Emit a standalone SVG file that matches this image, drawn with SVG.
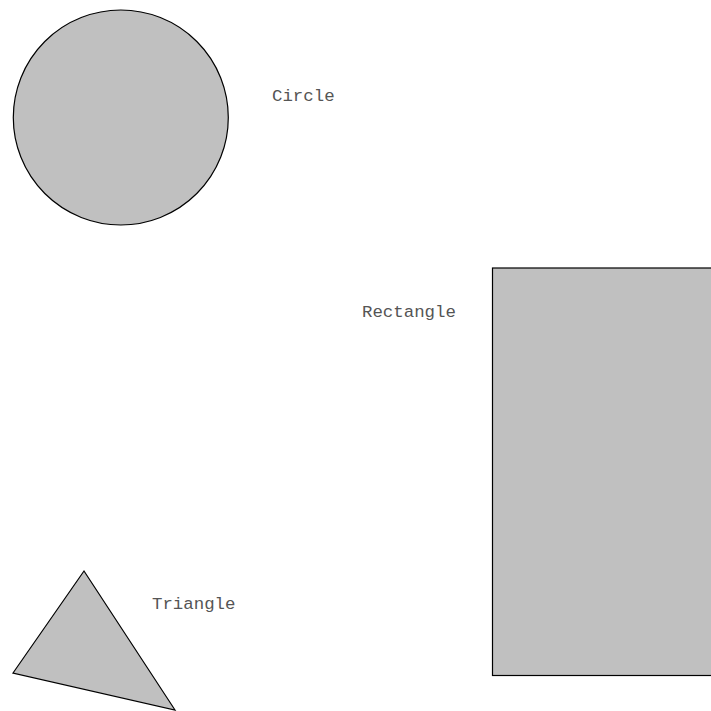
<svg xmlns="http://www.w3.org/2000/svg" width="711" height="711" viewBox="0 0 711 711">
<style>
.shape{fill:#c0c0c0;stroke:#000;stroke-width:1.2}
.lbl{font-family:"Liberation Mono","Courier New",monospace;font-size:17.4px;fill:#555}
</style>
<rect width="711" height="711" fill="#fff"/>
<g id="circle">
<circle class="shape" cx="120.8" cy="117.5" r="107.5"/>
<text class="lbl" x="272" y="101">Circle</text>
</g>
<g id="rectangle">
<rect class="shape" x="492.5" y="268" width="222" height="407.5"/>
<text class="lbl" x="362" y="317">Rectangle</text>
</g>
<g id="triangle">
<polygon class="shape" points="84,571 13,673 175,710"/>
<text class="lbl" x="152" y="609">Triangle</text>
</g>
<g id="connectors"/>
</svg>
